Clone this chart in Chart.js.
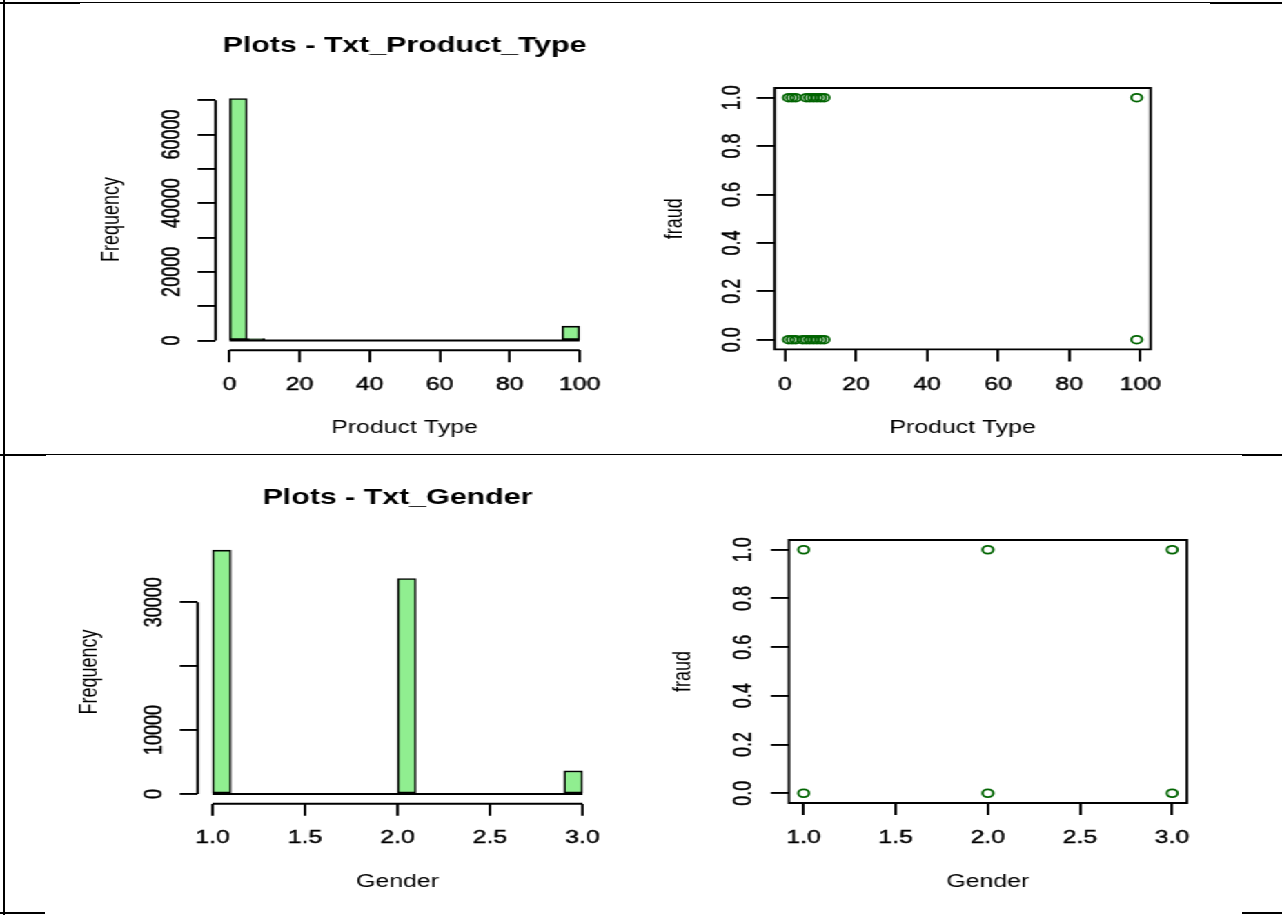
<!DOCTYPE html>
<html>
<head>
<meta charset="utf-8">
<title>Plots - Txt_Product_Type / Txt_Gender</title>
<script src="https://cdn.jsdelivr.net/npm/chart.js"></script>
<style>
    html, body { margin: 0; padding: 0; background: #fff; }
    body { width: 1282px; height: 915px; position: relative; overflow: hidden; }
    /* the source screenshot is stretched sideways, so the whole drawing is too */
    #stage { position: absolute; left: 0; top: 0; width: 930px; height: 915px; transform: scaleX(1.38); transform-origin: 0 0; }
    #stage canvas { position: absolute; }
    .rule { position: absolute; background: #000; }
</style>
</head>
<body>
<div id="stage">
    <canvas id="ptHist"></canvas>
    <canvas id="ptScatter"></canvas>
    <canvas id="gHist"></canvas>
    <canvas id="gScatter"></canvas>
</div>

<!-- table rules of the document the plots were pasted into -->
<div class="rule" style="left:0;top:2px;width:1282px;height:1px"></div>
<div class="rule" style="left:0;top:2px;width:80px;height:2px"></div>
<div class="rule" style="left:1210px;top:2px;width:72px;height:2px"></div>
<div class="rule" style="left:3px;top:0;width:2px;height:915px"></div>
<div class="rule" style="left:0;top:454px;width:1282px;height:1px"></div>
<div class="rule" style="left:0;top:454px;width:46px;height:2px"></div>
<div class="rule" style="left:1242px;top:454px;width:40px;height:2px"></div>
<div class="rule" style="left:0;top:912px;width:45px;height:2px"></div>
<div class="rule" style="left:1242px;top:912px;width:40px;height:2px"></div>

<script>
// ========================================
// DATOS
// ========================================

// Txt_Product_Type: histogram breaks (every 5) and counts per bin
const ptBreaks = [0, 5, 10, 15, 20, 25, 30, 35, 40, 45, 50, 55, 60, 65, 70, 75, 80, 85, 90, 95, 100];
const ptCounts = [70500, 600, 0, 0, 0, 0, 0, 0, 0, 0, 0, 0, 0, 0, 0, 0, 0, 0, 0, 4170];
const ptFreqTicks = [0, 10000, 20000, 30000, 40000, 50000, 60000, 70000];
const ptFreqLabels = ['0', '', '20000', '', '40000', '', '60000', ''];
const ptTypeTicks = [0, 20, 40, 60, 80, 100];
const ptTypeLabels = ['0', '20', '40', '60', '80', '100'];

// Txt_Product_Type vs fraud (distinct pairs)
const ptPairType = [1, 2, 3, 6, 7, 8, 9, 10, 11, 99, 1, 2, 3, 5, 6, 7, 8, 9, 10, 11, 99];
const ptPairFraud = [1, 1, 1, 1, 1, 1, 1, 1, 1, 1, 0, 0, 0, 0, 0, 0, 0, 0, 0, 0, 0];

// Txt_Gender: histogram breaks (every 0.1) and counts per bin
const gBreaks = [1.0, 1.1, 1.2, 1.3, 1.4, 1.5, 1.6, 1.7, 1.8, 1.9, 2.0, 2.1, 2.2, 2.3, 2.4, 2.5, 2.6, 2.7, 2.8, 2.9, 3.0];
const gCounts = [38170, 0, 0, 0, 0, 0, 0, 0, 0, 0, 33720, 0, 0, 0, 0, 0, 0, 0, 0, 3610];
const gFreqTicks = [0, 10000, 20000, 30000];
const gFreqLabels = ['0', '10000', '', '30000'];
const gTicks = [1, 1.5, 2, 2.5, 3];
const gLabels = ['1.0', '1.5', '2.0', '2.5', '3.0'];

// Txt_Gender vs fraud
const gPairGender = [1, 2, 3, 1, 2, 3];
const gPairFraud = [1, 1, 1, 0, 0, 0];

const fraudTicks = [0, 0.2, 0.4, 0.6, 0.8, 1];
const fraudLabels = ['0.0', '0.2', '0.4', '0.6', '0.8', '1.0'];

// ========================================
// ESTILO
// ========================================

const SX = 1.38;
const FONT = '"Liberation Sans", Arial, sans-serif';
const INK = '#000';
const HIST_FILL = '#90ee90';
const POINT_COL = '#006400';
const TICK_PX = 18, LAB_PX = 18, MAIN_PX = 22;
const X_TL = 12, Y_TL = 13, LW = 1.9;

// R pads the data range by 4% on each side
function rRange(lo, hi) {
    const d = (hi - lo) * 0.04;
    return [lo - d, hi + d];
}

function textWidth(labels, px) {
    const ctx = document.createElement('canvas').getContext('2d');
    ctx.font = px + 'px ' + FONT;
    return Math.max(...labels.map(s => ctx.measureText(s).width));
}

// frame: plot region and text centres in page pixels -> canvas box and paddings
function layoutFor(f) {
    const labLh = LAB_PX * 1.2, mainLh = MAIN_PX * 1.2, tickLh = TICK_PX * 1.2;
    const padL = 2;
    const left = f.yTitleX / SX - labLh / 2 - padL;
    const areaL = f.area.l / SX, areaR = f.area.r / SX;
    const width = Math.ceil(areaR + 30 - left);
    let top, padT, titlePadBottom = 0;
    if (f.titleY) {
        padT = 2;
        top = f.titleY - mainLh / 2 - padT;
        titlePadBottom = f.area.t - top - padT - mainLh;
    } else {
        padT = 20;
        top = f.area.t - padT;
    }
    const xBottom = f.xTitleY + labLh / 2;
    const height = Math.ceil(xBottom + 4 - top);
    return {
        left, top, width, height,
        padding: { left: padL, top: padT, right: width - (areaR - left), bottom: height - (xBottom - top) },
        yWidth: areaL - left - padL,
        xHeight: xBottom - f.area.b,
        titlePadBottom,
        xTickPad: f.xLabY - f.area.b - X_TL - tickLh / 2,
        yTickPad: areaL - Y_TL - textWidth(f.yLabels, TICK_PX) / 2 - f.yLabX / SX
    };
}

// R style axes: line only from first to last tick, or a full box for plot()
const rAxes = {
    id: 'rAxes',
    afterDraw(chart, args, o) {
        const { ctx, chartArea: a, scales: { x, y } } = chart;
        ctx.save();
        ctx.strokeStyle = INK;
        ctx.lineWidth = LW;
        ctx.beginPath();
        if (o.box) {
            ctx.rect(a.left, a.top, a.right - a.left, a.bottom - a.top);
        } else {
            const xt = x.ticks, yt = y.ticks;
            ctx.moveTo(x.getPixelForValue(xt[0].value), a.bottom);
            ctx.lineTo(x.getPixelForValue(xt[xt.length - 1].value), a.bottom);
            ctx.moveTo(a.left, y.getPixelForValue(yt[0].value));
            ctx.lineTo(a.left, y.getPixelForValue(yt[yt.length - 1].value));
        }
        if (o.base) {
            // empty bins are drawn by hist() as flat rectangles on the zero line
            const y0 = y.getPixelForValue(0);
            ctx.moveTo(x.getPixelForValue(o.base[0]), y0);
            ctx.lineTo(x.getPixelForValue(o.base[1]), y0);
        }
        ctx.stroke();
        ctx.restore();
    }
};

function axis(L, range, ticks, labels, title, isY) {
    return {
        type: 'linear', min: range[0], max: range[1], bounds: 'data', offset: false,
        afterBuildTicks: s => { s.ticks = ticks.map(v => ({ value: v })); },
        afterFit: s => { if (isY) s.width = L.yWidth; else s.height = L.xHeight; },
        grid: { drawOnChartArea: false, drawTicks: true, offset: false, tickLength: isY ? Y_TL : X_TL,
                color: INK, tickColor: INK, lineWidth: LW, tickWidth: LW },
        border: { display: false },
        ticks: {
            autoSkip: false, color: INK, font: { family: FONT, size: TICK_PX },
            textStrokeColor: INK, textStrokeWidth: 0.4,
            minRotation: isY ? 90 : 0, maxRotation: isY ? 90 : 0,
            crossAlign: isY ? 'center' : 'near',
            padding: isY ? L.yTickPad : L.xTickPad,
            callback: (v, i) => labels[i]
        },
        title: { display: true, text: title, color: INK, font: { family: FONT, size: LAB_PX }, padding: 0 }
    };
}

function buildChart(id, c) {
    const L = layoutFor(c.frame);
    const cv = document.getElementById(id);
    cv.width = L.width;
    cv.height = L.height;
    cv.style.left = L.left + 'px';
    cv.style.top = L.top + 'px';
    cv.style.width = L.width + 'px';
    cv.style.height = L.height + 'px';

    return new Chart(cv, {
        type: c.type,
        data: { datasets: [c.dataset] },
        plugins: [rAxes],
        options: {
            responsive: false,
            animation: false,
            devicePixelRatio: 1,
            events: [],
            layout: { padding: L.padding },
            plugins: {
                legend: { display: false },
                tooltip: { enabled: false },
                title: {
                    display: !!c.title, text: c.title, fullSize: false, color: INK,
                    font: { family: FONT, size: MAIN_PX, weight: 'bold' },
                    padding: { top: 0, bottom: L.titlePadBottom }
                },
                rAxes: c.rAxes
            },
            scales: {
                x: axis(L, c.xRange, c.xTicks, c.xLabels, c.xTitle, false),
                y: axis(L, c.yRange, c.yTicks, c.yLabels, c.yTitle, true)
            }
        }
    });
}

function histDataset(breaks, counts) {
    return {
        data: counts.map((n, i) => ({ x: (breaks[i] + breaks[i + 1]) / 2, y: n })),
        backgroundColor: HIST_FILL, borderColor: INK, borderWidth: 1.6, borderSkipped: false,
        barPercentage: 1, categoryPercentage: 1
    };
}

function pairDataset(xs, ys) {
    return {
        data: xs.map((v, i) => ({ x: v, y: ys[i] })),
        pointStyle: 'circle', pointRadius: 3.9, pointBorderWidth: 1.8,
        pointBorderColor: POINT_COL, pointBackgroundColor: 'rgba(0,0,0,0)', showLine: false
    };
}

// ========================================
// GRAFICOS
// ========================================

const ptMax = Math.max(...ptCounts);
const gMax = Math.max(...gCounts);

buildChart('ptHist', {
    type: 'bar', title: 'Plots - Txt_Product_Type',
    dataset: histDataset(ptBreaks, ptCounts),
    xRange: rRange(ptBreaks[0], ptBreaks[ptBreaks.length - 1]), xTicks: ptTypeTicks, xLabels: ptTypeLabels, xTitle: 'Product Type',
    yRange: rRange(0, ptMax), yTicks: ptFreqTicks, yLabels: ptFreqLabels, yTitle: 'Frequency',
    rAxes: { box: false, base: [ptBreaks[0], ptBreaks[ptBreaks.length - 1]] },
    frame: { area: { l: 216, r: 594, t: 88.6, b: 350 }, titleY: 46, yTitleX: 112, yLabX: 172.5, xLabY: 385, xTitleY: 428, yLabels: ptFreqLabels }
});

buildChart('ptScatter', {
    type: 'scatter',
    dataset: pairDataset(ptPairType, ptPairFraud),
    xRange: rRange(Math.min(...ptPairType), Math.max(...ptPairType)), xTicks: ptTypeTicks, xLabels: ptTypeLabels, xTitle: 'Product Type',
    yRange: rRange(0, 1), yTicks: fraudTicks, yLabels: fraudLabels, yTitle: 'fraud',
    rAxes: { box: true },
    frame: { area: { l: 775, r: 1151, t: 88.3, b: 349.7 }, yTitleX: 675, yLabX: 733, xLabY: 385, xTitleY: 428, yLabels: fraudLabels }
});

buildChart('gHist', {
    type: 'bar', title: 'Plots - Txt_Gender',
    dataset: histDataset(gBreaks, gCounts),
    xRange: rRange(gBreaks[0], gBreaks[gBreaks.length - 1]), xTicks: gTicks, xLabels: gLabels, xTitle: 'Gender',
    yRange: rRange(0, gMax), yTicks: gFreqTicks, yLabels: gFreqLabels, yTitle: 'Frequency',
    rAxes: { box: false, base: [gBreaks[0], gBreaks[gBreaks.length - 1]] },
    frame: { area: { l: 198.2, r: 597.8, t: 540.2, b: 803.5 }, titleY: 498, yTitleX: 90, yLabX: 155, xLabY: 838, xTitleY: 882, yLabels: gFreqLabels }
});

buildChart('gScatter', {
    type: 'scatter',
    dataset: pairDataset(gPairGender, gPairFraud),
    xRange: rRange(Math.min(...gPairGender), Math.max(...gPairGender)), xTicks: gTicks, xLabels: gLabels, xTitle: 'Gender',
    yRange: rRange(0, 1), yTicks: fraudTicks, yLabels: fraudLabels, yTitle: 'fraud',
    rAxes: { box: true },
    frame: { area: { l: 789, r: 1187, t: 540, b: 803 }, yTitleX: 683, yLabX: 744, xLabY: 838, xTitleY: 882, yLabels: fraudLabels }
});
</script>
</body>
</html>
